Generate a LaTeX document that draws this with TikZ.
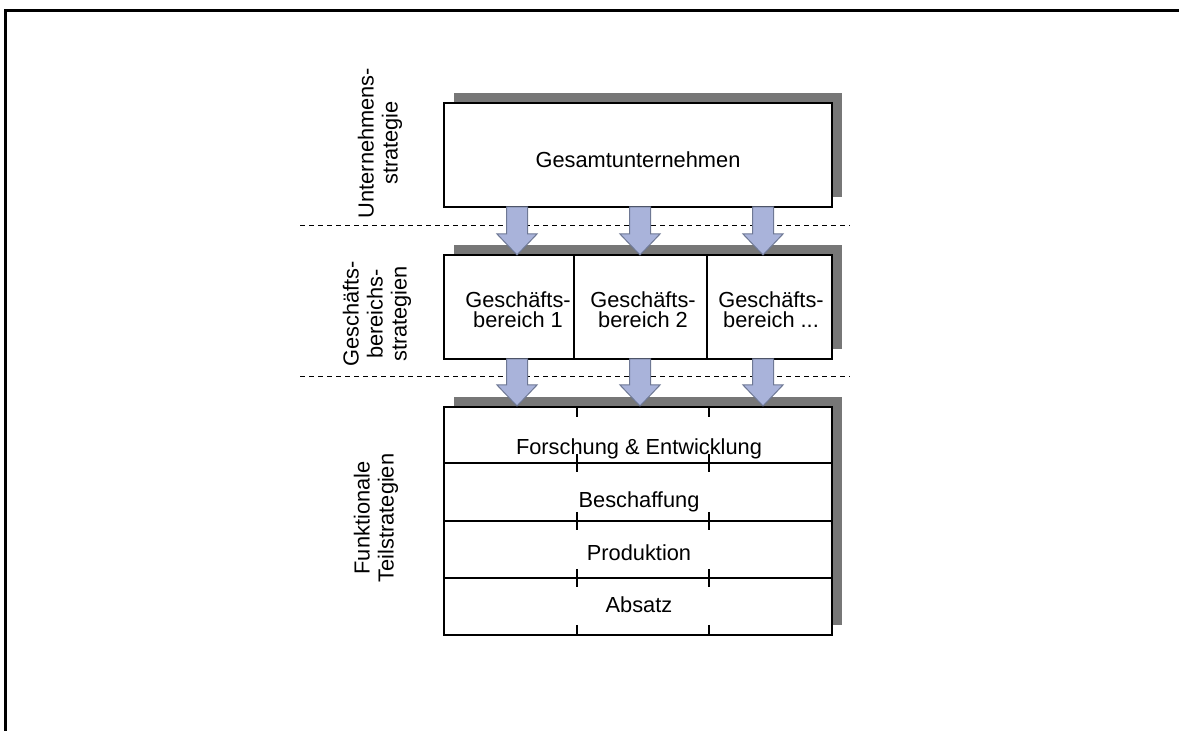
\documentclass[tikz,border=0pt]{standalone}
\usepackage{fontspec}
\setmainfont{Liberation Sans}
\usetikzlibrary{positioning}

\definecolor{shadowgray}{HTML}{777777}
\definecolor{arrowblue}{HTML}{A9B3DA}
\definecolor{arrowedge}{HTML}{6E7894}

\tikzset{
  shadowbox/.style={fill=shadowgray, draw=none},
  stratbox/.style={draw, fill=white, line width=0.6pt, inner sep=0pt},
  blockarrow/.style={fill=arrowblue, draw=arrowedge, line width=0.5pt},
  levelline/.style={dash pattern=on 2.5pt off 2pt, line width=0.5pt},
  sidelabel/.style={rotate=90, align=center, inner sep=0pt, font=\fontsize{10.9}{12}\selectfont},
  boxtext/.style={anchor=base, inner sep=0pt, align=center, font=\fontsize{10.9}{10}\selectfont}
}

% block arrow: x, top, shoulder, tip
\newcommand{\stratarrow}[4]{%
  \draw[blockarrow] (#1-10.5,#2) -- (#1+10.5,#2) -- (#1+10.5,#3) -- (#1+20,#3)
    -- (#1,#4) -- (#1-20,#3) -- (#1-10.5,#3) -- cycle;}

\begin{document}
\begin{tikzpicture}[x=0.5pt,y=-0.5pt]
        \useasboundingbox (0,0) rectangle (1179,731);
        % --- Frame ---
        \draw[line width=1.5pt] (5,731) -- (5,11) -- (1179,11);
        % ---

        % --- Shadows ---
        \fill[shadowbox] (454,93) rectangle (842,197);
        \fill[shadowbox] (454,245) rectangle (842,349);
        \fill[shadowbox] (454,397) rectangle (842,625);
        % ---

        % --- Level separators ---
        \draw[levelline] (300,226) -- (850,226);
        \draw[levelline] (300,377) -- (850,377);
        % ---

        % --- Gesamtunternehmen ---
        \node[stratbox, minimum width=194pt, minimum height=52pt] (gesamt) at (638,155) {};
        \node[boxtext] (gesamtText) at (638,168) {Gesamtunternehmen};
        % ---

        % --- Geschaeftsbereiche ---
        \node[stratbox, minimum width=194pt, minimum height=52pt] (bereiche) at (638,307) {};
        \draw[line width=0.6pt] (574,255) -- (574,359) (707,255) -- (707,359);
        \node[boxtext] (gb1) at (518,328) {Geschäfts-\\bereich 1};
        \node[boxtext] (gb2) at (643,328) {Geschäfts-\\bereich 2};
        \node[boxtext] (gb3) at (771,328) {Geschäfts-\\bereich ...};
        % ---

        % --- Funktionale Bereiche ---
        \node[stratbox, minimum width=194pt, minimum height=114pt] (funktionen) at (638,521) {};
        \draw[line width=0.6pt] (444,463) -- (832,463) (444,521) -- (832,521) (444,578) -- (832,578);
        \foreach \tx in {577,709} {
            \draw[line width=0.6pt] (\tx,407) -- (\tx,417);
            \foreach \ty in {463,521,578}
                \draw[line width=0.6pt] (\tx,\ty-9) -- (\tx,\ty+9);
            \draw[line width=0.6pt] (\tx,625) -- (\tx,635);
        }
        \node[boxtext] (fue) at (639,455) {Forschung \& Entwicklung};
        \node[boxtext] (besch) at (639,508) {Beschaffung};
        \node[boxtext] (prod) at (639,561) {Produktion};
        \node[boxtext] (absatz) at (639,613) {Absatz};
        % ---

        % --- Arrows between levels ---
        \foreach \ax in {517,640,763} {
            \stratarrow{\ax}{207}{234}{255}
            \stratarrow{\ax}{359}{385}{406}
        }
        % ---

        % --- Level labels ---
        \node[sidelabel] (lblUnternehmen) at (380,143) {Unternehmens-\\strategie};
        \node[sidelabel] (lblBereich) at (377,314) {Geschäfts-\\bereichs-\\strategien};
        \node[sidelabel] (lblFunktion) at (376,518) {Funktionale\\Teilstrategien};
        % ---
\end{tikzpicture}
\end{document}
